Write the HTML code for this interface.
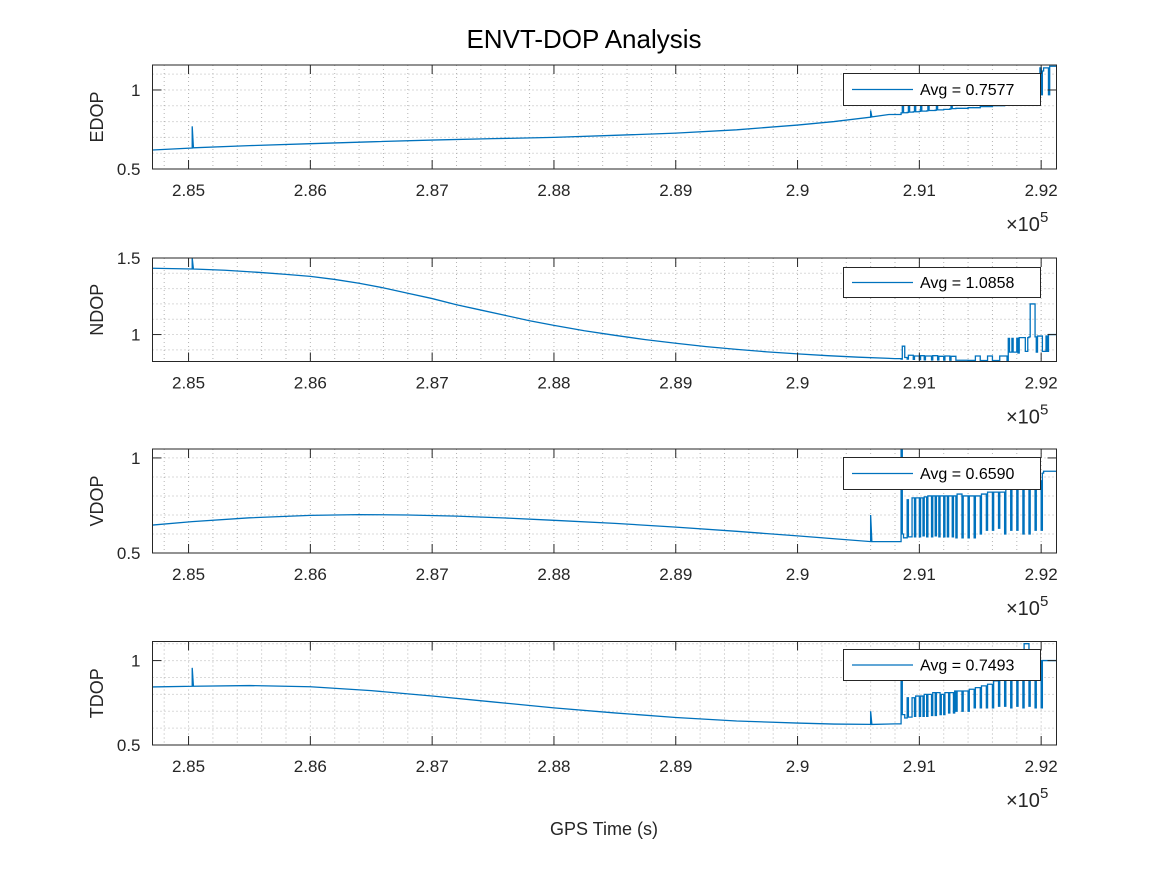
<!DOCTYPE html>
<html><head><meta charset="utf-8">
<style>
html,body{margin:0;padding:0;background:#fff;}
svg{display:block;font-family:"Liberation Sans",Arial,sans-serif;}
</style></head>
<body>
<svg id="fig" width="1167" height="875" viewBox="0 0 1167 875" xmlns="http://www.w3.org/2000/svg">
<rect width="1167" height="875" fill="#fff"/>
<text x="584" y="48" font-size="26" text-anchor="middle" fill="#000">ENVT-DOP Analysis</text>
<text x="604" y="835" font-size="18" text-anchor="middle" fill="#262626">GPS Time (s)</text>
<g id="plots"></g>
</svg>
<script>
// shared x tick labels (units of 1e5 s)
const xTicks = [2.85, 2.86, 2.87, 2.88, 2.89, 2.90, 2.91, 2.92];
const xTickLabels = ["2.85","2.86","2.87","2.88","2.89","2.9","2.91","2.92"];
const xDomain = [2.84704, 2.92126];

// EDOP
const edopT = [2.84704,2.8503,2.8503,2.8504,2.855,2.86,2.865,2.87,2.875,2.88,2.885,2.89,2.895,2.90,2.903,2.906,2.906,2.9061,2.9075,2.9085,2.9086,2.9087,2.9090,2.9091,2.9092,2.9095,2.9096,2.9097,2.9100,2.9101,2.9102,2.9106,2.9107,2.9108,2.9113,2.9114,2.9115,2.9120,2.9125,2.9126,2.9127,2.913,2.914,2.915,2.916,2.917,2.918,2.9185,2.919,2.9195,2.9197,2.9198,2.9199,2.9200,2.9201,2.9202,2.9205,2.9206,2.9207,2.9213];
const edopV = [0.62,0.633,0.77,0.634,0.648,0.66,0.672,0.683,0.692,0.70,0.713,0.727,0.748,0.778,0.80,0.828,0.87,0.83,0.845,0.855,0.90,0.856,0.858,0.905,0.86,0.862,0.90,0.862,0.865,0.91,0.866,0.868,0.905,0.87,0.872,0.90,0.874,0.877,0.88,0.90,0.882,0.884,0.888,0.895,0.90,0.91,0.92,0.935,0.945,0.955,0.99,0.955,1.14,0.97,1.12,1.14,1.14,0.97,1.15,1.15];
const edopY = {min:0.5, max:1.158, ticks:[0.5,1], labels:["0.5","1"], minor:0.1};

// NDOP
const ndopT = [2.84704,2.8503,2.8503,2.8504,2.853,2.856,2.858,2.86,2.862,2.864,2.866,2.868,2.870,2.872,2.874,2.876,2.878,2.88,2.8825,2.885,2.8875,2.89,2.8925,2.895,2.8975,2.90,2.9025,2.905,2.908,2.9085,2.9086,2.9088,2.9090,2.9091,2.9095,2.9096,2.9100,2.9101,2.9104,2.9105,2.9110,2.9111,2.9115,2.9116,2.912,2.9121,2.9125,2.9126,2.913,2.914,2.9145,2.9146,2.915,2.9155,2.9156,2.916,2.9165,2.9166,2.9172,2.9173,2.9174,2.9176,2.9177,2.9180,2.9181,2.9182,2.9186,2.9187,2.9189,2.919,2.9191,2.9195,2.9196,2.9197,2.9200,2.9201,2.9204,2.9205,2.9206,2.9213];
const ndopV = [1.433,1.428,1.5,1.428,1.42,1.405,1.393,1.38,1.36,1.335,1.305,1.27,1.235,1.195,1.16,1.125,1.09,1.06,1.025,0.995,0.967,0.943,0.921,0.903,0.887,0.874,0.862,0.852,0.843,0.84,0.924,0.85,0.84,0.865,0.838,0.86,0.836,0.862,0.835,0.86,0.834,0.862,0.834,0.858,0.833,0.86,0.832,0.858,0.832,0.831,0.83,0.86,0.83,0.83,0.86,0.83,0.83,0.86,0.83,0.975,0.885,0.975,0.885,0.976,0.88,0.98,0.98,0.89,0.98,0.985,1.2,0.985,0.885,0.99,0.99,0.89,0.99,0.89,1.0,1.0];
const ndopY = {min:0.824, max:1.5, ticks:[1,1.5], labels:["1","1.5"], minor:0.1};

// VDOP
const vdopT = [2.84704,2.8503,2.855,2.86,2.864,2.868,2.872,2.876,2.88,2.885,2.89,2.895,2.90,2.903,2.906,2.906,2.9061,2.908,2.9085,2.9085,2.9086,2.9087,2.909,2.9091,2.9093,2.9094,2.9096,2.9097,2.910,2.9101,2.9103,2.9104,2.9106,2.9107,2.911,2.9111,2.9113,2.9114,2.9116,2.9117,2.912,2.9121,2.9123,2.9124,2.9127,2.9128,2.913,2.9131,2.9135,2.9136,2.914,2.9141,2.9145,2.9146,2.915,2.9151,2.9155,2.9156,2.916,2.9161,2.9165,2.9166,2.917,2.9171,2.9175,2.9176,2.918,2.9181,2.9185,2.9186,2.919,2.9191,2.9195,2.9196,2.920,2.9201,2.9202,2.9213];
const vdopV = [0.647,0.665,0.685,0.698,0.702,0.70,0.694,0.684,0.672,0.656,0.636,0.614,0.59,0.575,0.56,0.70,0.56,0.56,0.6,1.05,0.6,0.58,0.78,0.585,0.585,0.79,0.585,0.79,0.585,0.79,0.59,0.795,0.585,0.8,0.585,0.8,0.59,0.8,0.585,0.8,0.585,0.8,0.585,0.8,0.585,0.8,0.58,0.81,0.58,0.8,0.58,0.8,0.58,0.8,0.6,0.81,0.62,0.82,0.62,0.82,0.63,0.82,0.6,0.85,0.62,0.86,0.62,0.87,0.6,0.87,0.6,0.88,0.62,0.88,0.62,0.92,0.93,0.93];
const vdopY = {min:0.5, max:1.047, ticks:[0.5,1], labels:["0.5","1"], minor:0.1};

// TDOP
const tdopT = [2.84704,2.8503,2.8503,2.8504,2.855,2.86,2.865,2.87,2.875,2.88,2.885,2.89,2.895,2.90,2.903,2.906,2.906,2.9061,2.908,2.9085,2.9085,2.9086,2.9088,2.909,2.9091,2.9093,2.9094,2.9096,2.9097,2.910,2.9101,2.9103,2.9104,2.9106,2.9107,2.911,2.9111,2.9113,2.9114,2.9117,2.9118,2.912,2.9121,2.9124,2.9125,2.9128,2.9129,2.913,2.9131,2.9135,2.9136,2.914,2.9141,2.9145,2.9146,2.915,2.9151,2.9155,2.9156,2.916,2.9161,2.9165,2.9166,2.917,2.9171,2.9175,2.9176,2.918,2.9181,2.9185,2.9186,2.919,2.9191,2.9195,2.9196,2.920,2.9201,2.9202,2.9213];
const tdopV = [0.844,0.848,0.957,0.848,0.852,0.845,0.822,0.79,0.755,0.72,0.69,0.663,0.642,0.63,0.624,0.622,0.70,0.622,0.625,0.66,0.9,0.68,0.66,0.78,0.665,0.665,0.78,0.67,0.79,0.67,0.79,0.67,0.8,0.67,0.8,0.675,0.81,0.675,0.81,0.68,0.8,0.68,0.81,0.69,0.81,0.69,0.82,0.70,0.82,0.70,0.82,0.70,0.83,0.72,0.84,0.72,0.85,0.72,0.86,0.72,0.88,0.73,0.9,0.73,0.9,0.72,0.95,0.73,0.95,0.72,1.1,0.73,0.95,0.72,1.0,0.72,1.0,1.0,1.0];
const tdopY = {min:0.5, max:1.113, ticks:[0.5,1], labels:["0.5","1"], minor:0.1};

const panelNames = ["EDOP","NDOP","VDOP","TDOP"];
const panelAvg = ["0.7577","1.0858","0.6590","0.7493"];
const panelT = [edopT, ndopT, vdopT, tdopT];
const panelV = [edopV, ndopV, vdopV, tdopV];
const panelY = [edopY, ndopY, vdopY, tdopY];
const stepStart = 2.9084;

const boxes = [[65,169],[258,361.5],[449,553],[641.5,745]];
const legendBoxes = [[73,105],[267,297],[457,489],[649,680]];
const L = 152.5, R = 1056.5;
const NS = "http://www.w3.org/2000/svg";
const root = document.getElementById('plots');
function mk(tag, attrs, parent){ const e=document.createElementNS(NS,tag); for(const k in attrs) e.setAttribute(k,attrs[k]); (parent||root).appendChild(e); return e; }
const xs = t => L + (t - xDomain[0]) / (xDomain[1]-xDomain[0]) * (R-L);

panelNames.forEach((name, i) => {
  const [T,B] = boxes[i];
  const yd = panelY[i];
  const ys = v => B - (v - yd.min)/(yd.max-yd.min)*(B-T);
  const g = mk('g', {});
  
  
  mk('rect',{x:L,y:T,width:R-L,height:B-T,fill:'#fff'},g);
  for (let t=2.848; t<xDomain[1]; t+=0.002){
    const x=xs(t);
    const ln = mk('line',{x1:x,x2:x,y1:T,y2:B,stroke:'#b4b4b4','stroke-width':1,'stroke-dasharray':'1,3'},g);
    
    
  }
  for (let v=Math.ceil(yd.min/yd.minor-1e-6)*yd.minor; v<yd.max; v+=yd.minor){
    const y=ys(v);
    const ln = mk('line',{x1:L,x2:R,y1:y,y2:y,stroke:'#b4b4b4','stroke-width':1,'stroke-dasharray':'1,3'},g);
    
    
  }
  // series (step-hold in the switching region)
  const Ts=panelT[i], Vs=panelV[i];
  const p=[];
  Ts.forEach((t,k)=>{
    if (k>0 && t>=stepStart) p.push(xs(t).toFixed(2)+','+ys(Vs[k-1]).toFixed(2));
    p.push(xs(t).toFixed(2)+','+ys(Vs[k]).toFixed(2));
  });
  const cp = mk('clipPath',{id:'clip'+i},g);
  mk('rect',{x:L,y:T,width:R-L,height:B-T},cp);
  const line = mk('polyline',{points:p.join(' '),fill:'none',stroke:'#0072BD','stroke-width':1.3,'clip-path':'url(#clip'+i+')'},g);
  
  
  mk('rect',{x:L,y:T,width:R-L,height:B-T,fill:'none',stroke:'#262626','stroke-width':1},g);
  xTicks.forEach((t,k)=>{
    const x=xs(t);
    mk('line',{x1:x,x2:x,y1:B,y2:B-9,stroke:'#262626'},g);
    mk('line',{x1:x,x2:x,y1:T,y2:T+9,stroke:'#262626'},g);
    const tx = mk('text',{x:x,y:B+27,'font-size':17,'text-anchor':'middle',fill:'#262626'},g);
    tx.textContent = xTickLabels[k];
    
    
  });
  const ex = mk('text',{x:1006,y:B+62,'font-size':20,fill:'#262626'},g);
  
  
  ex.innerHTML = '×10<tspan dy="-9" font-size="15">5</tspan>';
  yd.ticks.forEach((v,k)=>{
    const y=ys(v);
    mk('line',{x1:L,x2:L+9,y1:y,y2:y,stroke:'#262626'},g);
    mk('line',{x1:R,x2:R-9,y1:y,y2:y,stroke:'#262626'},g);
    const tx = mk('text',{x:L-12,y:y+6,'font-size':17,'text-anchor':'end',fill:'#262626'},g);
    tx.textContent = yd.labels[k];
    
    
  });
  const yl = mk('text',{x:0,y:0,'font-size':18,'text-anchor':'middle',fill:'#262626',transform:'translate(103,'+((T+B)/2)+') rotate(-90)'},g);
  yl.textContent = name;
  
  
  const [lt,lb] = legendBoxes[i];
  const lg = mk('g',{},g);
  
  
  mk('rect',{x:843.5,y:lt+0.5,width:197,height:lb-lt,fill:'#fff',stroke:'#262626','stroke-width':1},lg);
  mk('line',{x1:852,x2:913,y1:(lt+lb)/2+0.5,y2:(lt+lb)/2+0.5,stroke:'#0072BD','stroke-width':1.2},lg);
  const lt2 = mk('text',{x:920,y:(lt+lb)/2+6,'font-size':16,fill:'#000'},lg);
  lt2.textContent = 'Avg = '+panelAvg[i];
});
</script>
</body></html>
